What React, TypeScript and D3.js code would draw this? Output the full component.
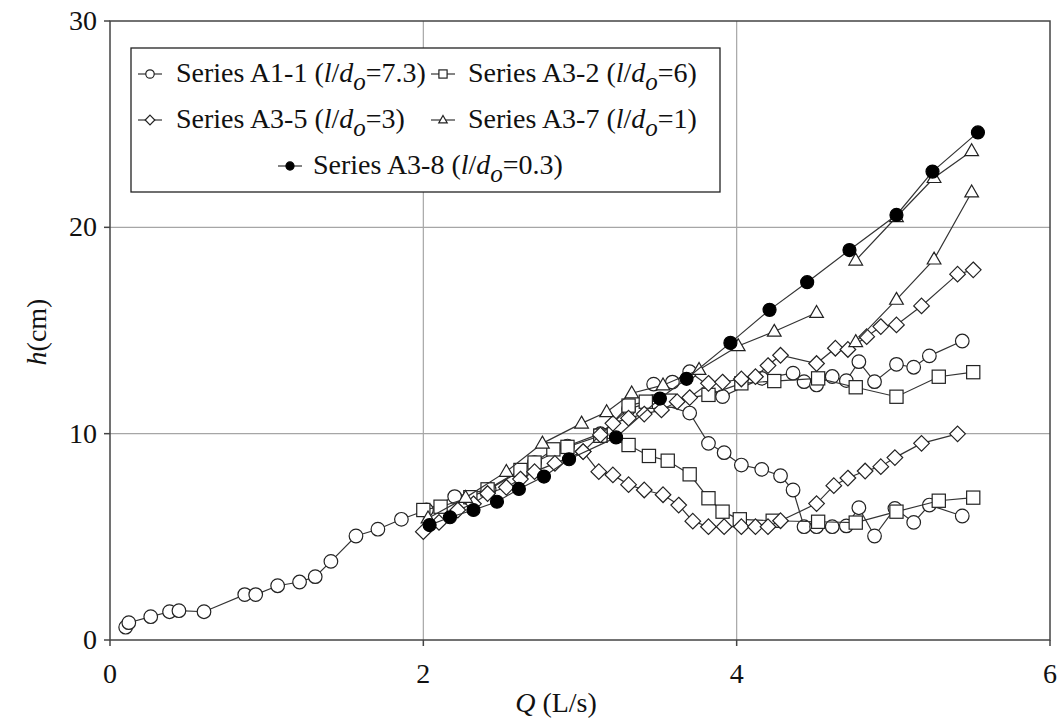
import React from "react";
import * as d3 from "d3";

type P = [number, number];

// Series A1-1 (circles)
const a11Main: P[] = [
  [0.1, 0.62], [0.12, 0.84], [0.26, 1.13], [0.38, 1.37], [0.44, 1.42], [0.6, 1.37],
  [0.86, 2.2], [0.93, 2.2], [1.07, 2.63], [1.21, 2.81], [1.31, 3.07], [1.41, 3.81],
  [1.57, 5.04], [1.71, 5.37], [1.86, 5.85], [2.02, 6.3], [2.2, 6.95], [2.42, 7.3],
  [2.71, 8.6], [2.92, 9.4], [3.13, 10.0], [3.31, 11.2], [3.47, 11.55], [3.7, 11.0],
  [3.82, 9.53], [3.92, 9.08], [4.03, 8.48], [4.16, 8.27], [4.28, 7.96], [4.36, 7.27],
  [4.43, 5.49], [4.51, 5.49], [4.61, 5.49], [4.7, 5.53], [4.78, 6.41], [4.88, 5.04],
  [5.01, 6.38], [5.13, 5.7], [5.23, 6.54], [5.44, 6.01],
];
const a11Upper: P[] = [
  [3.47, 12.4], [3.59, 12.5], [3.7, 13.0], [3.91, 11.8], [4.16, 12.68], [4.36, 12.93],
  [4.43, 12.52], [4.51, 12.36], [4.61, 12.77], [4.7, 12.57], [4.78, 13.49], [4.88, 12.52],
  [5.02, 13.36], [5.13, 13.22], [5.23, 13.77], [5.44, 14.49],
];

// Series A3-2 (squares)
const a32Upper: P[] = [
  [2.0, 6.3], [2.11, 6.46], [2.3, 6.92], [2.41, 7.3], [2.62, 8.24], [2.71, 8.6],
  [2.83, 9.24], [2.92, 9.36], [3.13, 9.9], [3.31, 11.36], [3.42, 11.55], [3.57, 11.6],
  [3.82, 11.88], [4.03, 12.44], [4.24, 12.55], [4.52, 12.68], [4.76, 12.25], [5.02, 11.79],
  [5.29, 12.76], [5.51, 12.98],
];
const a32Lower: P[] = [
  [3.13, 9.9], [3.31, 9.45], [3.44, 8.92], [3.56, 8.69], [3.7, 8.03], [3.82, 6.87],
  [3.91, 6.22], [4.02, 5.85], [4.23, 5.78], [4.52, 5.73], [4.76, 5.69], [5.02, 6.22],
  [5.29, 6.75], [5.51, 6.9],
];

// Series A3-5 (diamonds)
const a35Upper: P[] = [
  [2.0, 5.25], [2.1, 5.7], [2.22, 6.3], [2.32, 6.6], [2.41, 7.1], [2.53, 7.4],
  [2.62, 7.8], [2.71, 8.16], [2.84, 8.56], [3.02, 9.13], [3.13, 9.94], [3.21, 10.5],
  [3.31, 10.75], [3.41, 10.95], [3.52, 11.15], [3.62, 11.55], [3.7, 11.75], [3.82, 12.44],
  [3.91, 12.5], [4.03, 12.65], [4.12, 12.76], [4.2, 13.3], [4.28, 13.8], [4.51, 13.4],
  [4.63, 14.14], [4.71, 14.08], [4.83, 14.7], [4.92, 15.19], [5.02, 15.27], [5.18, 16.19],
  [5.41, 17.73], [5.51, 17.94],
];
const a35Lower: P[] = [
  [3.02, 9.13], [3.12, 8.16], [3.21, 8.0], [3.31, 7.53], [3.41, 7.27], [3.53, 7.04],
  [3.63, 6.54], [3.72, 5.76], [3.82, 5.49], [3.92, 5.49], [4.03, 5.49], [4.12, 5.49],
  [4.2, 5.49], [4.28, 5.78], [4.51, 6.61], [4.62, 7.48], [4.71, 7.85], [4.82, 8.19],
  [4.92, 8.4], [5.01, 8.84], [5.18, 9.53], [5.41, 9.99],
];

// Series A3-7 (triangles)
const a37Rise: P[] = [
  [2.03, 5.9], [2.27, 6.9], [2.53, 8.16], [2.76, 9.53], [3.01, 10.5], [3.17, 11.05],
  [3.33, 11.96], [3.53, 12.35], [3.76, 13.1], [4.01, 14.25], [4.24, 14.95], [4.51, 15.86],
];
const a37High: P[] = [[4.76, 18.4], [5.02, 20.5], [5.26, 22.4], [5.5, 23.7]];
const a37Mid: P[] = [[4.76, 14.45], [5.02, 16.5], [5.26, 18.45], [5.5, 21.7]];

// Series A3-8 (filled circles)
const a38: P[] = [
  [2.04, 5.57], [2.17, 5.95], [2.32, 6.3], [2.47, 6.7], [2.61, 7.32], [2.77, 7.92],
  [2.93, 8.76], [3.23, 9.82], [3.51, 11.7], [3.68, 12.66], [3.96, 14.4], [4.21, 16.0],
  [4.45, 17.34], [4.72, 18.9], [5.02, 20.6], [5.25, 22.7], [5.54, 24.6],
];

const xTicks = [0, 2, 4, 6];
const yTicks = [0, 10, 20, 30];

type Shape = "circle" | "square" | "diamond" | "triangle" | "dot";

const seriesDefs: { shape: Shape; segs: P[][] }[] = [
  { shape: "circle", segs: [a11Main, a11Upper] },
  { shape: "square", segs: [a32Upper, a32Lower] },
  { shape: "diamond", segs: [a35Upper, a35Lower] },
  { shape: "triangle", segs: [a37Rise, a37High, a37Mid] },
  { shape: "dot", segs: [a38] },
];

const FONT = "'Liberation Serif', 'Times New Roman', serif";

function Marker({ shape, x, y, s = 1 }: { shape: Shape; x: number; y: number; s?: number }) {
  const sw = 1.2;
  if (shape === "circle")
    return <circle cx={x} cy={y} r={6.8 * s} fill="#fff" stroke="#222" strokeWidth={sw} />;
  if (shape === "dot")
    return <circle cx={x} cy={y} r={6.5 * s} fill="#000" stroke="#000" strokeWidth={sw} />;
  if (shape === "square") {
    const h = 6.6 * s;
    return <rect x={x - h} y={y - h} width={2 * h} height={2 * h} fill="#fff" stroke="#222" strokeWidth={sw} />;
  }
  if (shape === "diamond") {
    const h = 7.8 * s;
    return (
      <path d={`M${x},${y - h}L${x + h},${y}L${x},${y + h}L${x - h},${y}Z`} fill="#fff" stroke="#222" strokeWidth={sw} />
    );
  }
  const h = 7.2 * s;
  return (
    <path
      d={`M${x},${y - h}L${x + h * 0.95},${y + h * 0.65}L${x - h * 0.95},${y + h * 0.65}Z`}
      fill="#fff"
      stroke="#222"
      strokeWidth={sw}
    />
  );
}

function LegendLabel({ x, y, name, ratio }: { x: number; y: number; name: string; ratio: string }) {
  return (
    <text x={x} y={y} fontFamily={FONT} fontSize={28} fill="#111">
      {name + " ("}
      <tspan fontStyle="italic">l</tspan>
      /
      <tspan fontStyle="italic">d</tspan>
      <tspan fontStyle="italic" dy={8} fontSize={25}>o</tspan>
      <tspan dy={-8}>{"=" + ratio + ")"}</tspan>
    </text>
  );
}

export default function App() {
  const left = 110, right = 1050, top = 21, bottom = 640;
  const x = d3.scaleLinear().domain([0, 6]).range([left, right]);
  const y = d3.scaleLinear().domain([0, 30]).range([bottom, top]);
  const line = d3.line<P>().x((d) => x(d[0])).y((d) => y(d[1]));

  const legendItems = [
    { shape: "circle" as Shape, mx: 150, tx: 176, by: 82, name: "Series A1-1", ratio: "7.3" },
    { shape: "square" as Shape, mx: 443, tx: 468, by: 82, name: "Series A3-2", ratio: "6" },
    { shape: "diamond" as Shape, mx: 150, tx: 176, by: 128, name: "Series A3-5", ratio: "3" },
    { shape: "triangle" as Shape, mx: 443, tx: 468, by: 128, name: "Series A3-7", ratio: "1" },
    { shape: "dot" as Shape, mx: 290, tx: 313, by: 174, name: "Series A3-8", ratio: "0.3" },
  ];

  return (
    <svg width={1064} height={723} style={{ position: "absolute", left: 0, top: 0, background: "#fff" }}>
      <rect x={0} y={0} width={1064} height={723} fill="#fff" />
      {/* gridlines */}
      {xTicks.slice(1, -1).map((t) => (
        <line key={"gx" + t} x1={x(t)} x2={x(t)} y1={top} y2={bottom} stroke="#a6a6a6" strokeWidth={1.2} />
      ))}
      {yTicks.slice(1, -1).map((t) => (
        <line key={"gy" + t} x1={left} x2={right} y1={y(t)} y2={y(t)} stroke="#a6a6a6" strokeWidth={1.2} />
      ))}
      {/* frame */}
      <rect x={left} y={top} width={right - left} height={bottom - top} fill="none" stroke="#444" strokeWidth={1.5} />
      {/* ticks */}
      {xTicks.map((t) => (
        <line key={"tx" + t} x1={x(t)} x2={x(t)} y1={bottom} y2={bottom + 6} stroke="#444" strokeWidth={1.5} />
      ))}
      {yTicks.map((t) => (
        <line key={"ty" + t} x1={left - 6} x2={left} y1={y(t)} y2={y(t)} stroke="#444" strokeWidth={1.5} />
      ))}
      {/* tick labels */}
      {xTicks.map((t) => (
        <text key={"lx" + t} x={x(t)} y={683} textAnchor="middle" fontFamily={FONT} fontSize={28} fill="#111">
          {t}
        </text>
      ))}
      {yTicks.map((t) => (
        <text key={"ly" + t} x={97} y={y(t) + 9} textAnchor="end" fontFamily={FONT} fontSize={28} fill="#111">
          {t}
        </text>
      ))}
      {/* axis titles */}
      <text x={556} y={712} textAnchor="middle" fontFamily={FONT} fontSize={28} fill="#111">
        <tspan fontStyle="italic">Q</tspan> (L/s)
      </text>
      <text
        transform={`translate(46,332) rotate(-90)`}
        textAnchor="middle"
        fontFamily={FONT}
        fontSize={28}
        fill="#111"
      >
        <tspan fontStyle="italic">h</tspan>(cm)
      </text>
      {/* series */}
      {seriesDefs.map((s, i) => (
        <g key={"s" + i}>
          {s.segs.map((seg, j) => (
            <path key={"l" + j} d={line(seg) || ""} fill="none" stroke="#333" strokeWidth={1.2} />
          ))}
          {s.segs.map((seg, j) =>
            seg.map((p, k) => <Marker key={`m${j}-${k}`} shape={s.shape} x={x(p[0])} y={y(p[1])} />)
          )}
        </g>
      ))}
      {/* legend */}
      <rect x={131} y={48} width={589} height={144} fill="#fff" stroke="#222" strokeWidth={1.3} />
      {legendItems.map((it, i) => (
        <g key={"lg" + i}>
          <line x1={it.mx - 12} x2={it.mx + 12} y1={it.by - 8} y2={it.by - 8} stroke="#333" strokeWidth={1.2} />
          <Marker shape={it.shape} x={it.mx} y={it.by - 8} s={0.62} />
          <LegendLabel x={it.tx} y={it.by} name={it.name} ratio={it.ratio} />
        </g>
      ))}
    </svg>
  );
}
